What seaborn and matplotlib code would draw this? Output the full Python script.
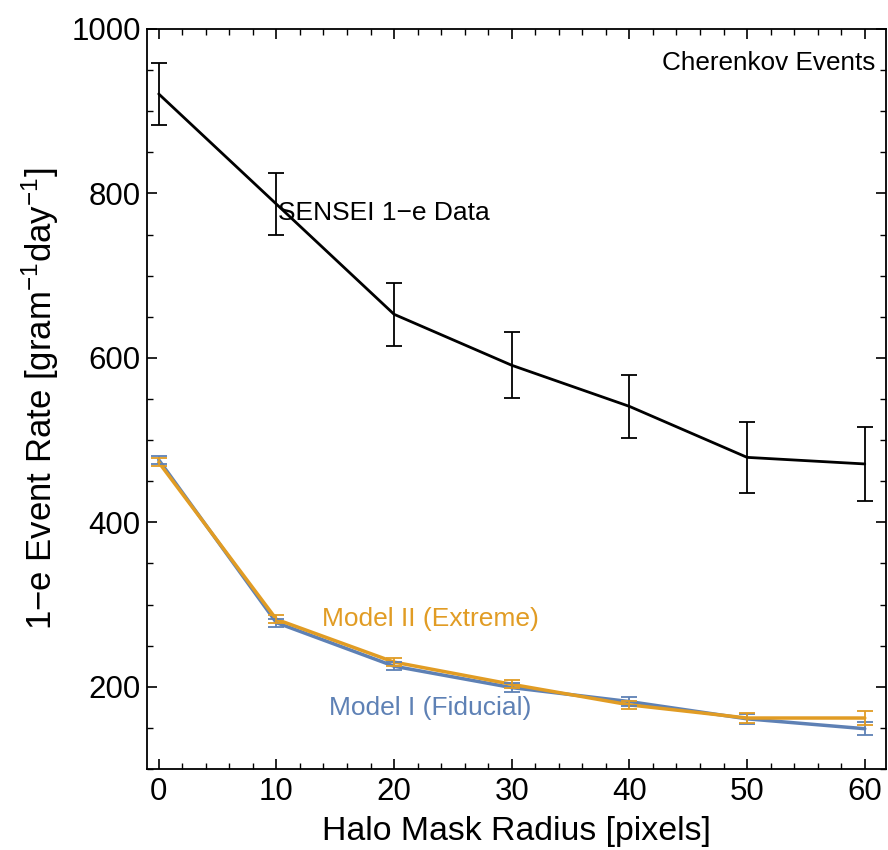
import matplotlib
matplotlib.use("Agg")
import matplotlib.pyplot as plt
import seaborn as sns
import pandas as pd
from matplotlib.ticker import MultipleLocator

radius = [0, 10, 20, 30, 40, 50, 60]
sensei_rate = [921, 787, 653, 591, 541, 479, 471]
sensei_err = [38, 38, 38, 40, 38, 43, 45]
model1_rate = [476, 278, 225, 199, 182, 161, 149]
model1_err = [5, 5, 5, 5, 5, 6, 8]
model2_rate = [473, 282, 230, 203, 178, 162, 162]
model2_err = [5, 5, 5, 5, 5, 6, 8]

sns.set_style("ticks")
plt.rcParams['font.family'] = ['Liberation Sans', 'DejaVu Sans']
plt.rcParams['mathtext.default'] = 'regular'
plt.rcParams['text.color'] = 'black'
plt.rcParams['axes.labelcolor'] = 'black'
plt.rcParams['xtick.color'] = 'black'
plt.rcParams['ytick.color'] = 'black'
plt.rcParams['axes.edgecolor'] = 'black'

blue = "#5E81B5"
orange = "#E19C24"

fig = plt.figure(figsize=(8.88, 8.5), dpi=100)
ax = fig.add_axes([0.1655, 0.0953, 0.8322, 0.8706])

df = pd.DataFrame({
    "radius": radius * 3,
    "rate": sensei_rate + model1_rate + model2_rate,
    "series": ["SENSEI"] * 7 + ["Model I"] * 7 + ["Model II"] * 7,
})
palette = {"SENSEI": "black", "Model I": blue, "Model II": orange}
for name, lw in [("SENSEI", 2.0), ("Model I", 2.5), ("Model II", 2.5)]:
    sub = df[df.series == name]
    sns.lineplot(data=sub, x="radius", y="rate", color=palette[name], lw=lw, ax=ax, legend=False)

ax.errorbar(radius, sensei_rate, yerr=sensei_err, fmt="none", ecolor="black", elinewidth=1.3, capsize=6, capthick=1.3)
ax.errorbar(radius, model1_rate, yerr=model1_err, fmt="none", ecolor=blue, elinewidth=1.3, capsize=6, capthick=1.3)
ax.errorbar(radius, model2_rate, yerr=model2_err, fmt="none", ecolor=orange, elinewidth=1.3, capsize=6, capthick=1.3)

ax.set_xlim(-1, 61.8)
ax.set_ylim(100, 1000)
ax.xaxis.set_major_locator(MultipleLocator(10))
ax.xaxis.set_minor_locator(MultipleLocator(2))
ax.yaxis.set_major_locator(MultipleLocator(200))
ax.yaxis.set_minor_locator(MultipleLocator(50))
ax.set_yticks([200, 400, 600, 800, 1000])
ax.tick_params(which="both", direction="in", top=True, right=True, labeltop=False, labelright=False)
ax.tick_params(which="major", length=7, width=1.2, labelsize=22.5)
ax.tick_params(axis="x", which="major", pad=6)
ax.tick_params(axis="y", which="major", pad=4.5)
ax.tick_params(which="minor", length=4, width=1.0)
for s in ax.spines.values():
    s.set_linewidth(1.3)

ax.set_xlabel("Halo Mask Radius [pixels]", fontsize=24.4, labelpad=6)
ax.set_ylabel("1\u2212e Event Rate [gram$^{-1}$day$^{-1}$]", fontsize=25)
ax.yaxis.set_label_coords(-0.116, 0.5)

ax.text(60.9, 959, "Cherenkov Events", ha="right", va="center", fontsize=18.8)
ax.text(10.1, 776, "SENSEI 1\u2212e Data", ha="left", va="center", fontsize=19)
ax.text(23.05, 282, "Model II (Extreme)", ha="center", va="center", fontsize=19, color=orange)
ax.text(23.05, 174, "Model I (Fiducial)", ha="center", va="center", fontsize=19, color=blue)

fig.savefig("out.png", dpi=100)
